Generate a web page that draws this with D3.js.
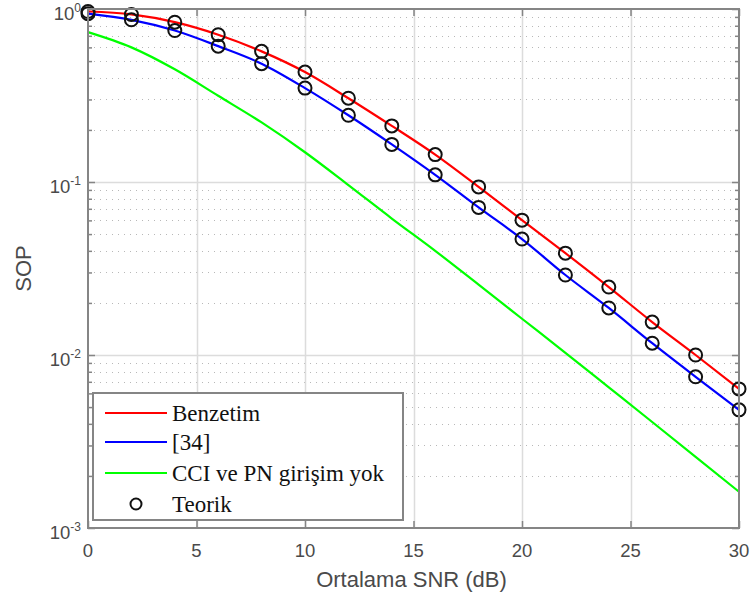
<!DOCTYPE html>
<html>
<head>
<meta charset="utf-8">
<script src="https://cdn.jsdelivr.net/npm/d3@7"></script>
<style>
  html, body { margin: 0; padding: 0; background: #fff; }
  svg { display: block; }
</style>
</head>
<body>
<svg id="chart" width="752" height="604"></svg>
<script>
// ---- data ----
const snr = [0, 2, 4, 6, 8, 10, 12, 14, 16, 18, 20, 22, 24, 26, 28, 30];
const benzetim = [0.967, 0.93, 0.839, 0.71, 0.569, 0.432, 0.305, 0.211, 0.144, 0.0937, 0.0602, 0.0388, 0.0247, 0.0155, 0.0100, 0.00637];
const ref34 = [0.94, 0.866, 0.751, 0.61, 0.483, 0.349, 0.243, 0.165, 0.110, 0.0713, 0.0468, 0.029, 0.0187, 0.0117, 0.00748, 0.00482];
const noInterf = [0.735, 0.60, 0.448, 0.315, 0.221, 0.1486, 0.096, 0.0615, 0.040, 0.0255, 0.0162, 0.0103, 0.0065, 0.0041, 0.00258, 0.00162];
const teorikBenzetim = benzetim;
const teorikRef34 = ref34;
const xTicks = [0, 5, 10, 15, 20, 25, 30];
const yTicks = [1e-3, 1e-2, 1e-1, 1];
const yTickExp = ["-3", "-2", "-1", "0"];
const legendLabels = ["Benzetim", "[34]", "CCI ve PN girişim yok", "Teorik"];
const seriesColors = ["#ff0000", "#0000ff", "#00ff00"];

// ---- layout ----
const svg = d3.select("#chart");
const L = 88, R = 739, T = 9, B = 528;
const x = d3.scaleLinear().domain([0, 30]).range([L, R]);
const y = d3.scaleLog().domain([1e-3, 1]).range([B, T]);
const axisColor = "#858585";
const textColor = "#4a4a4a";

// minor ticks values
const minorY = [];
for (let e = -3; e < 0; e++) for (let m = 2; m <= 9; m++) minorY.push(m * Math.pow(10, e));

const g = svg.append("g");

// grid: minor dotted
g.append("g").selectAll("line").data(minorY).join("line")
  .attr("x1", L).attr("x2", R)
  .attr("y1", d => Math.round(y(d)) + 0.5).attr("y2", d => Math.round(y(d)) + 0.5)
  .attr("stroke", "#b8b8b8").attr("stroke-width", 1).attr("stroke-dasharray", "1,5");
// grid: major
g.append("g").selectAll("line").data(yTicks.slice(1, 3)).join("line")
  .attr("x1", L).attr("x2", R)
  .attr("y1", d => Math.round(y(d)) + 0.5).attr("y2", d => Math.round(y(d)) + 0.5)
  .attr("stroke", "#dcdcdc").attr("stroke-width", 1.5);
g.append("g").selectAll("line").data(xTicks.slice(1, -1)).join("line")
  .attr("y1", T).attr("y2", B)
  .attr("x1", d => Math.round(x(d)) + 0.5).attr("x2", d => Math.round(x(d)) + 0.5)
  .attr("stroke", "#dcdcdc").attr("stroke-width", 1.5);

// axes via d3 axis (ticks inward)
const axB = d3.axisBottom(x).tickValues(xTicks).tickSize(-7).tickFormat("");
const axT = d3.axisTop(x).tickValues(xTicks).tickSize(-7).tickFormat("");
const axL = d3.axisLeft(y).tickValues(yTicks).tickSize(-7).tickFormat("");
const axR = d3.axisRight(y).tickValues(yTicks).tickSize(-7).tickFormat("");
const axLm = d3.axisLeft(y).tickValues(minorY).tickSize(-4).tickFormat("");
const axRm = d3.axisRight(y).tickValues(minorY).tickSize(-4).tickFormat("");
function styleAxis(sel) {
  sel.select(".domain").remove();
  sel.selectAll("line").attr("stroke", axisColor).attr("stroke-width", 1.5);
}
g.append("g").attr("transform", `translate(0,${B})`).call(axB).call(styleAxis);
g.append("g").attr("transform", `translate(0,${T})`).call(axT).call(styleAxis);
g.append("g").attr("transform", `translate(${L},0)`).call(axL).call(styleAxis);
g.append("g").attr("transform", `translate(${R},0)`).call(axR).call(styleAxis);
g.append("g").attr("transform", `translate(${L},0)`).call(axLm).call(styleAxis);
g.append("g").attr("transform", `translate(${R},0)`).call(axRm).call(styleAxis);

// x tick labels
g.append("g").selectAll("text").data(xTicks).join("text")
  .attr("x", d => x(d)).attr("y", B + 29)
  .attr("text-anchor", "middle")
  .attr("font-family", "Liberation Sans, Arial, sans-serif")
  .attr("font-size", 18.5).attr("fill", textColor)
  .text(d => d);

// y tick labels 10^e
const yl = g.append("g").selectAll("text").data(yTicks).join("text")
  .attr("x", L - 7).attr("y", d => y(d) + 11)
  .attr("text-anchor", "end")
  .attr("font-family", "Liberation Sans, Arial, sans-serif")
  .attr("fill", textColor);
yl.append("tspan").attr("font-size", 18.5).text("10");
yl.append("tspan").attr("font-size", 12).attr("dy", -8.5).text((d, i) => yTickExp[i]);

// axis titles
svg.append("text")
  .attr("x", (L + R) / 2 - 2).attr("y", 587)
  .attr("text-anchor", "middle")
  .attr("font-family", "Liberation Sans, Arial, sans-serif")
  .attr("font-size", 22).attr("fill", textColor)
  .text("Ortalama SNR (dB)");
svg.append("text")
  .attr("transform", `translate(31,${(T + B) / 2}) rotate(-90)`)
  .attr("text-anchor", "middle")
  .attr("font-family", "Liberation Sans, Arial, sans-serif")
  .attr("font-size", 22).attr("fill", textColor)
  .text("SOP");

const line = d3.line().x(d => x(d[0])).y(d => y(d[1])).curve(d3.curveMonotoneX);
const series = [benzetim, ref34, noInterf];
const plotG = svg.append("g");
series.forEach((s, i) => {
  plotG.append("path")
    .datum(snr.map((v, j) => [v, s[j]]))
    .attr("d", line)
    .attr("fill", "none")
    .attr("stroke", seriesColors[i])
    .attr("stroke-width", 2.2);
});
// theoretical markers
[teorikBenzetim, teorikRef34].forEach(s => {
  plotG.append("g").selectAll("circle").data(snr.map((v, j) => [v, s[j]])).join("circle")
    .attr("cx", d => x(d[0])).attr("cy", d => y(d[1]))
    .attr("r", 6.5)
    .attr("fill", "none").attr("stroke", "#111").attr("stroke-width", 2);
});

// box
svg.append("rect").attr("x", L).attr("y", T).attr("width", R - L).attr("height", B - T)
  .attr("fill", "none").attr("stroke", axisColor).attr("stroke-width", 2);

// legend
const lg = svg.append("g").attr("transform", "translate(93,393)");
lg.append("rect").attr("width", 310).attr("height", 127)
  .attr("fill", "#fff").attr("stroke", axisColor).attr("stroke-width", 2);
const rowY = [20, 49, 80, 111];
legendLabels.forEach((lab, i) => {
  if (i < 3) {
    lg.append("line").attr("x1", 12).attr("x2", 74).attr("y1", rowY[i]).attr("y2", rowY[i])
      .attr("stroke", seriesColors[i]).attr("stroke-width", 2);
  } else {
    lg.append("circle").attr("cx", 43).attr("cy", rowY[i]).attr("r", 5.5)
      .attr("fill", "none").attr("stroke", "#111").attr("stroke-width", 2);
  }
  lg.append("text").attr("x", 79).attr("y", rowY[i] + 8)
    .attr("font-family", "Liberation Serif, Times New Roman, serif")
    .attr("font-size", 23).attr("fill", "#111")
    .text(lab);
});
</script>
</body>
</html>
